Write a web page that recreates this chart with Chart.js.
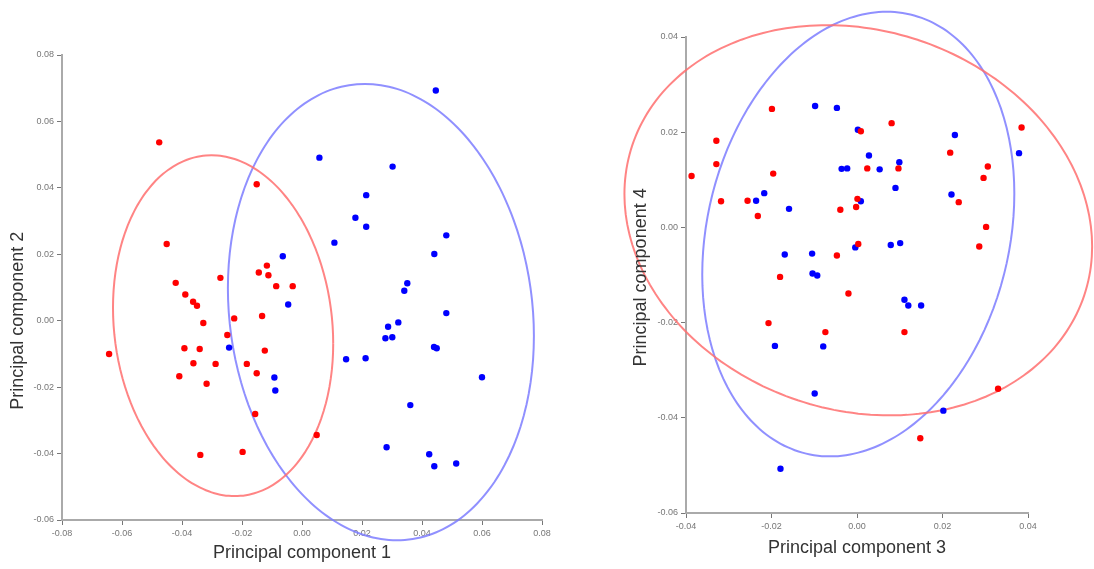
<!DOCTYPE html>
<html>
<head>
<meta charset="utf-8">
<script src="https://cdn.jsdelivr.net/npm/chart.js@4.4.1/dist/chart.umd.min.js"></script>
<style>
  html, body { margin: 0; padding: 0; background: #fff; }
  #wrap { position: relative; width: 1094px; height: 569px; }
  canvas { position: absolute; top: 0; }
  #pc12 { left: 0; }
  #pc34 { left: 560px; }
</style>
</head>
<body>
<div id="wrap">
  <canvas id="pc12" width="560" height="569"></canvas>
  <canvas id="pc34" width="534" height="569"></canvas>
</div>
<script>
// scores on PC1 / PC2
const pc1Red  = [-0.0476, -0.0151, -0.0451, -0.0421, -0.0389, -0.0363, -0.0350, -0.0272, -0.0117, -0.0144, -0.0112, -0.0086, -0.0031, -0.0329, -0.0226, -0.0133, -0.0249, -0.0392, -0.0341, -0.0124, -0.0643, -0.0362, -0.0288, -0.0184, -0.0151, -0.0409, -0.0318, -0.0156, -0.0339, -0.0198, 0.0049];
const pc2Red  = [0.0537, 0.0411, 0.0231, 0.0114, 0.0079, 0.0057, 0.0045, 0.0129, 0.0166, 0.0145, 0.0137, 0.0104, 0.0104, -0.0007, 0.0007, 0.0014, -0.0043, -0.0083, -0.0085, -0.0090, -0.0100, -0.0128, -0.0130, -0.0130, -0.0158, -0.0167, -0.0190, -0.0281, -0.0404, -0.0395, -0.0344];
const pc1Blue = [-0.0064, -0.0046, -0.0243, -0.0092, -0.0089, 0.0446, 0.0058, 0.0302, 0.0214, 0.0178, 0.0214, 0.0108, 0.0481, 0.0441, 0.0351, 0.0341, 0.0481, 0.0321, 0.0287, 0.0278, 0.0301, 0.0440, 0.0449, 0.0147, 0.0212, 0.0600, 0.0361, 0.0282, 0.0424, 0.0441, 0.0514];
const pc2Blue = [0.0194, 0.0049, -0.0081, -0.0171, -0.0210, 0.0693, 0.0491, 0.0464, 0.0378, 0.0310, 0.0283, 0.0235, 0.0257, 0.0201, 0.0113, 0.0090, 0.0023, -0.0005, -0.0018, -0.0053, -0.0050, -0.0079, -0.0083, -0.0116, -0.0113, -0.0170, -0.0254, -0.0381, -0.0402, -0.0438, -0.0430];

// scores on PC3 / PC4
const pc3Red  = [-0.0199, -0.0329, -0.0329, -0.0387, -0.0196, -0.0318, -0.0256, -0.0232, -0.0039, -0.0002, 0.0001, 0.0009, -0.0047, 0.0003, 0.0081, 0.0385, 0.0218, 0.0306, 0.0296, 0.0024, 0.0097, 0.0238, 0.0302, 0.0286, -0.0180, -0.0020, -0.0207, -0.0074, 0.0111, 0.0330, 0.0148];
const pc4Red  = [0.0249, 0.0182, 0.0133, 0.0108, 0.0113, 0.0055, 0.0056, 0.0024, 0.0037, 0.0043, 0.0060, 0.0202, -0.0059, -0.0035, 0.0219, 0.0210, 0.0157, 0.0128, 0.0104, 0.0124, 0.0124, 0.0053, 0.0001, -0.0040, -0.0104, -0.0139, -0.0201, -0.0220, -0.0220, -0.0339, -0.0443];
const pc3Blue = [-0.0098, -0.0047, 0.0002, -0.0036, -0.0023, -0.0217, -0.0236, -0.0159, 0.0009, -0.0169, -0.0105, -0.0004, 0.0229, 0.0379, 0.0028, 0.0099, 0.0053, 0.0090, 0.0221, 0.0079, 0.0101, -0.0104, -0.0093, -0.0192, -0.0079, -0.0099, -0.0179, 0.0111, 0.0120, 0.0150, 0.0202];
const pc4Blue = [0.0255, 0.0251, 0.0205, 0.0123, 0.0124, 0.0072, 0.0056, 0.0039, 0.0055, -0.0057, -0.0055, -0.0042, 0.0194, 0.0156, 0.0151, 0.0137, 0.0122, 0.0083, 0.0069, -0.0037, -0.0033, -0.0097, -0.0101, -0.0249, -0.0250, -0.0349, -0.0507, -0.0152, -0.0164, -0.0164, -0.0385];

// group ellipses: centre x, centre y, half width, half height, y offset at the widest point
const ellRed12  = [-0.0263, -0.0015, 0.0367, 0.0513, -0.0054];
const ellBlue12 = [0.0263, 0.0026, 0.0510, 0.0687, -0.0072];
const ellRed34  = [0.0003, 0.0015, 0.0547, 0.0410, -0.0055];
const ellBlue34 = [0.0003, -0.0014, 0.0365, 0.0467, 0.0085];

// tick labels
const ticksPc1 = [-0.08, -0.06, -0.04, -0.02, 0.00, 0.02, 0.04, 0.06, 0.08];
const ticksPc2 = [-0.06, -0.04, -0.02, 0.00, 0.02, 0.04, 0.06, 0.08];
const ticksPc3 = [-0.04, -0.02, 0.00, 0.02, 0.04];
const ticksPc4 = [-0.06, -0.04, -0.02, 0.00, 0.02, 0.04];

const FONT = "'Liberation Sans', Arial, sans-serif";

function zip(xs, ys) {
  return xs.map((x, i) => ({ x: x, y: ys[i] }));
}

function ellipse(e) {
  const [cx, cy, rx, ry, k] = e;
  const ry2 = Math.sqrt(ry * ry - k * k);
  const pts = [];
  for (let i = 0; i <= 120; i++) {
    const t = i / 120 * 2 * Math.PI;
    pts.push({ x: cx + rx * Math.cos(t), y: cy + k * Math.cos(t) + ry2 * Math.sin(t) });
  }
  return pts;
}

function dots(data, color) {
  return { data: data, backgroundColor: color, borderWidth: 0, pointRadius: 3.2, pointHoverRadius: 3.2 };
}

// a small tension keeps chart.js off its fast path, which leaves nicks on steep parts
function ring(data, color) {
  return { data: data, showLine: true, borderColor: color, borderWidth: 2, pointRadius: 0, fill: false, clip: false, tension: 0.1 };
}

function axis(ticks, fixedSize, vertical) {
  return {
    type: "linear",
    min: ticks[0],
    max: ticks[ticks.length - 1],
    afterBuildTicks: s => { s.ticks = ticks.map(v => ({ value: v })); },
    afterFit: s => { if (vertical) s.width = fixedSize; else s.height = fixedSize; },
    ticks: {
      color: "#777",
      font: { family: FONT, size: 9 },
      padding: 3,
      autoSkip: false,
      maxRotation: 0,
      callback: v => v.toFixed(2)
    },
    grid: { drawOnChartArea: false, drawTicks: true, tickLength: 5, color: "#777" },
    border: { display: true, color: "#aaa", width: 2 }
  };
}

// y-axis title, centred on a given value of the axis
const sideTitle = {
  id: "sideTitle",
  afterDraw(chart, args, o) {
    const ctx = chart.ctx;
    const y = chart.scales.y.getPixelForValue(o.at);
    ctx.save();
    ctx.translate(o.x, y);
    ctx.rotate(-Math.PI / 2);
    ctx.font = "18px " + FONT;
    ctx.fillStyle = "#333";
    ctx.textAlign = "center";
    ctx.textBaseline = "middle";
    ctx.fillText(o.text, 0, 0);
    ctx.restore();
  }
};

function makeChart(id, cfg) {
  const xAxis = axis(cfg.xTicks, cfg.xHeight, false);
  xAxis.title = {
    display: true, text: cfg.xTitle, color: "#333",
    font: { family: FONT, size: 18 }, padding: { top: 0, bottom: cfg.xTitlePad }
  };
  const yAxis = axis(cfg.yTicks, 62, true);

  new Chart(document.getElementById(id), {
    type: "scatter",
    data: {
      datasets: [
        dots(cfg.red, "#ff0000"),
        dots(cfg.blue, "#0000ff"),
        ring(cfg.redEll, "rgba(255, 110, 110, 0.85)"),
        ring(cfg.blueEll, "rgba(125, 125, 255, 0.85)")
      ]
    },
    options: {
      responsive: false,
      animation: false,
      layout: { padding: cfg.padding },
      plugins: {
        legend: { display: false },
        tooltip: { enabled: false },
        sideTitle: { text: cfg.yTitle, x: cfg.yTitleX, at: cfg.yTitleAt }
      },
      scales: { x: xAxis, y: yAxis }
    },
    plugins: [sideTitle]
  });
}

makeChart("pc12", {
  red: zip(pc1Red, pc2Red),
  blue: zip(pc1Blue, pc2Blue),
  redEll: ellipse(ellRed12),
  blueEll: ellipse(ellBlue12),
  xTicks: ticksPc1, yTicks: ticksPc2,
  xTitle: "Principal component 1", yTitle: "Principal component 2",
  padding: { left: 0, right: 18, top: 55, bottom: 0 },
  xHeight: 49, xTitlePad: 5,
  yTitleX: 18.5, yTitleAt: 0.0
});

makeChart("pc34", {
  red: zip(pc3Red, pc4Red),
  blue: zip(pc3Blue, pc4Blue),
  redEll: ellipse(ellRed34),
  blueEll: ellipse(ellBlue34),
  xTicks: ticksPc3, yTicks: ticksPc4,
  xTitle: "Principal component 3", yTitle: "Principal component 4",
  padding: { left: 64, right: 66, top: 37, bottom: 0 },
  xHeight: 56, xTitlePad: 10,
  yTitleX: 81, yTitleAt: -0.0105
});
</script>
</body>
</html>
